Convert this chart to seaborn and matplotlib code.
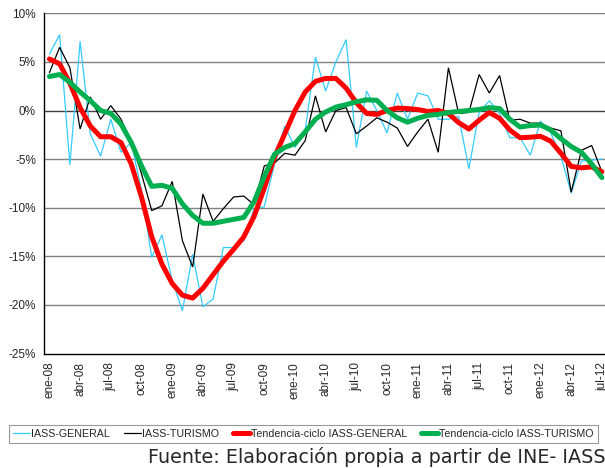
import matplotlib
matplotlib.use("Agg")
import matplotlib.pyplot as plt
import seaborn as sns
import numpy as np
import pandas as pd

meses = ["ene", "feb", "mar", "abr", "may", "jun", "jul", "ago", "sep", "oct", "nov", "dic"]
categorias = [f"{m}-{a:02d}" for a in range(8, 13) for m in meses][:55]

iass_general = [5.8, 7.8, -5.6, 7.1, -2.4, -4.7, -0.9, -4.3, -3.3, -8.2,
                -15.1, -12.8, -17.5, -20.6, -14.8, -20.2, -19.4, -14.1, -14.1, -13.4,
                -10.1, -9.9, -5.5, -1.6, -3.8, -2.0, 5.5, 2.0, 5.0, 7.3,
                -3.8, 2.0, 0.0, -2.3, 1.8, -0.9, 1.8, 1.5, -0.9, -0.9,
                -0.6, -6.0, -0.2, 1.0, -0.3, -2.8, -2.8, -4.6, -1.1, -2.3,
                -4.7, -8.5, -5.2, -5.1, -5.0]
iass_turismo = [3.9, 6.5, 4.4, -1.9, 1.4, -0.9, 0.5, -0.9, -3.2, -6.5,
                -10.3, -9.8, -7.3, -13.4, -16.1, -8.6, -11.4, -10.1, -8.9, -8.8,
                -9.7, -5.7, -5.4, -4.4, -4.6, -3.1, 1.5, -2.2, 0.0, 0.3,
                -2.4, -1.6, -0.75, -1.2, -1.8, -3.7, -2.2, -0.9, -4.3, 4.4,
                -0.3, -0.2, 3.7, 1.8, 3.6, -1.0, -0.9, -1.3, -1.3, -1.8,
                -2.1, -8.4, -4.1, -3.6, -6.3]
tend_general = [5.3, 4.8, 2.8, 0.3, -1.6, -2.7, -2.7, -3.3, -5.5, -8.9,
                -13.0, -15.8, -17.8, -19.0, -19.3, -18.3, -16.9, -15.5, -14.3, -13.0,
                -10.9, -8.0, -4.8, -2.4, 0.0, 1.9, 3.0, 3.3, 3.3, 2.3,
                0.8, -0.3, -0.4, 0.0, 0.25, 0.2, 0.1, -0.1, 0.0, -0.3,
                -1.25, -1.9, -1.0, -0.2, -0.8, -2.0, -2.8, -2.75, -2.65, -3.15,
                -4.4, -5.75, -5.9, -5.8, -6.3]
tend_turismo = [3.5, 3.7, 2.9, 1.9, 1.0, 0.0, -0.3, -1.4, -3.3, -5.7,
                -7.8, -7.7, -8.0, -9.6, -10.8, -11.6, -11.6, -11.4, -11.2, -11.0,
                -9.4, -6.8, -4.5, -3.8, -3.4, -2.2, -0.9, -0.15, 0.35, 0.6,
                0.9, 1.1, 1.05, 0.0, -0.75, -1.2, -0.8, -0.5, -0.4, -0.2,
                -0.1, 0.0, 0.1, 0.3, 0.2, -0.9, -1.7, -1.55, -1.5, -2.0,
                -2.9, -3.7, -4.3, -5.5, -6.9]

series_names = ["IASS-GENERAL", "IASS-TURISMO",
                "Tendencia-ciclo IASS-GENERAL", "Tendencia-ciclo IASS-TURISMO"]
series_vals = [iass_general, iass_turismo, tend_general, tend_turismo]
colores = ["#33CCFF", "#000000", "#FF0000", "#00B050"]
anchos = [0.9, 0.9, 3.6, 3.6]

sns.set_theme(style="white")
plt.rcParams['font.family'] = ['Liberation Sans', 'DejaVu Sans']

fig = plt.figure(figsize=(6.05, 4.68), dpi=100)
ax = fig.add_axes([44.3 / 605, 1 - 353.5 / 468, (607 - 44.3) / 605, (353.5 - 13.3) / 468])

idx = np.arange(len(categorias))
for name, vals, c, lw in zip(series_names, series_vals, colores, anchos):
    df = pd.DataFrame({"x": idx, "y": vals})
    sns.lineplot(data=df, x="x", y="y", ax=ax, color=c, linewidth=lw, label=name,
                 solid_joinstyle="miter" if lw < 2 else "round")

ax.set_xlim(-0.5, len(categorias) - 0.5)
ax.set_ylim(-25, 10)
yt = np.arange(-25, 11, 5)
ax.set_yticks(yt)
ax.set_yticklabels([f"{v}%" for v in yt], fontsize=8.5)
for v in yt[1:]:
    ax.axhline(v, color="#404040" if v == 0 else "#808080", linewidth=1.0, zorder=0)

ax.set_xticks(np.arange(0, len(categorias), 3))
ax.set_xticklabels(categorias[::3], rotation=90, fontsize=8.5)
ax.set_xticks(np.arange(-0.5, len(categorias), 3), minor=True)
ax.tick_params(axis="x", which="major", length=0, pad=6)
ax.tick_params(axis="x", which="minor", length=4, width=0.8, color="black", direction="out")
ax.tick_params(axis="y", length=4, width=0.8, color="black", direction="out", pad=2)
ax.set_xlabel("")
ax.set_ylabel("")
for s in ["top", "right"]:
    ax.spines[s].set_visible(False)
for s in ["left", "bottom"]:
    ax.spines[s].set_color("black")
    ax.spines[s].set_linewidth(1.0)
ax.grid(False)

ax.get_legend().remove()
handles, labels = ax.get_legend_handles_labels()
leg = fig.legend(handles, labels, loc="center", bbox_to_anchor=(303.5 / 605, 1 - 434 / 468),
                 ncol=4, frameon=True, fancybox=False, handlelength=1.6, handletextpad=0.1,
                 columnspacing=1.3, borderpad=0.35,
                 prop={"family": ["Liberation Sans"], "size": 7.7})
leg.get_frame().set_edgecolor("#808080")
leg.get_frame().set_linewidth(0.8)

fig.text(148 / 605, 1 - 457 / 468, "Fuente: Elaboración propia a partir de INE- IASS",
         ha="left", va="center", fontsize=13.8, family=["DejaVu Sans"])

fig.savefig("out.png", dpi=100)
